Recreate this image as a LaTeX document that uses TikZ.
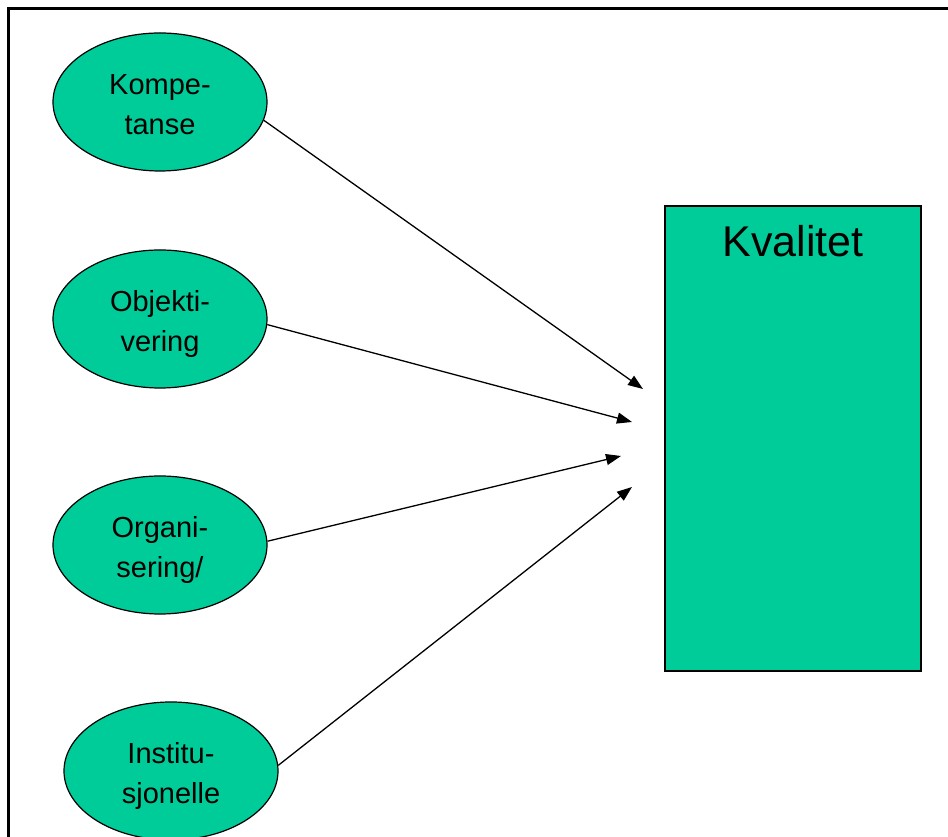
\documentclass[tikz,border=0pt]{standalone}
\usepackage{fontspec}
\setmainfont{Liberation Sans}
\usetikzlibrary{shapes.geometric,arrows.meta}
\definecolor{kvalgreen}{RGB}{0,204,153}
\tikzset{
	faktor/.style = {
			ellipse,
			draw            = black,
			line width      = 1.2pt,
			fill            = kvalgreen,
			minimum width   = 214pt,
			minimum height  = 138pt,
			inner sep       = 0pt,
			align           = center,
			text height     = 66pt,
			text depth      = 0pt,
			font            = \fontsize{29}{40}\selectfont,
		},
	pil/.style = {line width=1.3pt, -{Triangle[length=15pt,width=11pt]}},
}

\begin{document}
\begin{tikzpicture}[x=1pt,y=1pt]
	\useasboundingbox (0,0) rectangle (948,837);
	\clip (0,0) rectangle (948,837);
	\draw[line width=3pt] (8,-10) -- (8,828) -- (960,828);

	\node[faktor] (komp) at (160,735) {Kompe-\\tanse};
	\node[faktor] (objekt) at (160,518) {Objekti-\\vering};
	\node[faktor] (organ) at (160,292) {Organi-\\sering/};
	\node[faktor] (instit) at (171,66) {Institu-\\sjonelle};

	\node[draw=black, line width=1.6pt, fill=kvalgreen, minimum width=256pt, minimum height=465pt, inner sep=0pt] (kval) at (793,398.5) {};
	\node[font=\fontsize{43}{50}\selectfont, anchor=base] (kvaltekst) at (793,580) {Kvalitet};

	\coordinate (m1) at (643,448);
	\coordinate (m2) at (632,415);
	\coordinate (m3) at (621,381);
	\coordinate (m4) at (632,350);

	\draw[pil] (komp.-10) -- (m1);
	\draw[pil] (objekt.-3) -- (m2);
	\draw[pil] (organ.2) -- (m3);
	\draw[pil] (instit.3) -- (m4);
\end{tikzpicture}
\end{document}
